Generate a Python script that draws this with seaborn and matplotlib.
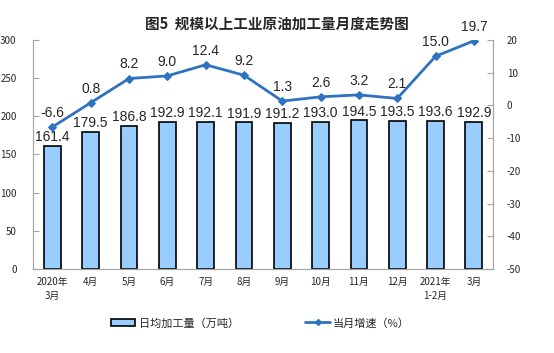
import numpy as np
import pandas as pd
import matplotlib
matplotlib.use('Agg')
import matplotlib.pyplot as plt
import seaborn as sns
from matplotlib.patches import Patch
from matplotlib.lines import Line2D

months = ['2020年\n3月', '4月', '5月', '6月', '7月', '8月', '9月', '10月', '11月', '12月', '2021年\n1-2月', '3月']
daily_output = [161.4, 179.5, 186.8, 192.9, 192.1, 191.9, 191.2, 193.0, 194.5, 193.5, 193.6, 192.9]
growth = [-6.6, 0.8, 8.2, 9.0, 12.4, 9.2, 1.3, 2.6, 3.2, 2.1, 15.0, 19.7]

sns.set_style('white')
plt.rcParams['font.family'] = ['Noto Sans CJK SC', 'DejaVu Sans']
plt.rcParams['axes.unicode_minus'] = False

bar_color = '#99CCFF'
line_color = '#2F73C0'
grey = '#A6A6A6'

df = pd.DataFrame({'month': months, 'output': daily_output, 'growth': growth})

fig = plt.figure(figsize=(5.54, 3.53), dpi=100)
ax = fig.add_axes([0.06, 0.238, 0.83, 0.649])

sns.barplot(data=df, x='month', y='output', color=bar_color, width=0.44,
            edgecolor='black', linewidth=1.2, saturation=1, ax=ax)
ax.set_ylim(0, 300)
ax.set_yticks(range(0, 301, 50))
ax.set_xlim(-0.5, len(months) - 0.5)
ax.set_xlabel('')
ax.set_ylabel('')

for i, v in enumerate(daily_output):
    ax.text(i, v + 2.5, f'{v:.1f}', ha='center', va='bottom', fontsize=10, family='Liberation Sans')

ax2 = ax.twinx()
sns.lineplot(x=np.arange(len(months)), y=growth, color=line_color, marker='D',
             markersize=4, markeredgecolor=line_color, linewidth=2, ax=ax2)
ax2.set_ylim(-50, 20)
ax2.set_yticks(range(-50, 21, 10))
for i, v in enumerate(growth):
    ax2.text(i, v + 2.2, f'{v:.1f}', ha='center', va='bottom', fontsize=10, family='Liberation Sans')

# axes styling
for a in (ax, ax2):
    for s in a.spines.values():
        s.set_color(grey)
        s.set_linewidth(0.8)
    a.spines['top'].set_visible(False)
ax.tick_params(axis='y', direction='in', length=4, color=grey, labelsize=7, pad=12)
ax2.tick_params(axis='y', direction='in', length=4, color=grey, labelsize=7, pad=10)
ax.set_xticks(np.arange(len(months)))
ax.set_xticklabels(months, fontsize=7, linespacing=1.4)
ax.tick_params(axis='x', length=0, pad=6)
ax.set_xticks(np.arange(len(months) + 1) - 0.5, minor=True)
ax.tick_params(axis='x', which='minor', direction='in', length=4, color=grey)

fig.suptitle('图5  规模以上工业原油加工量月度走势图', x=0.5, y=0.955, fontsize=10.5, fontweight='bold')

handles = [Patch(facecolor=bar_color, edgecolor='black', linewidth=1.2, label='日均加工量（万吨）'),
           Line2D([0], [0], color=line_color, marker='D', markersize=3, linewidth=2, label='当月增速（%）')]
fig.legend(handles=handles, loc='center', bbox_to_anchor=(0.47, 0.085), ncol=2, frameon=False,
           fontsize=8, columnspacing=6.0, handlelength=2.2, handletextpad=0.3)

fig.savefig('out.png', dpi=100)
